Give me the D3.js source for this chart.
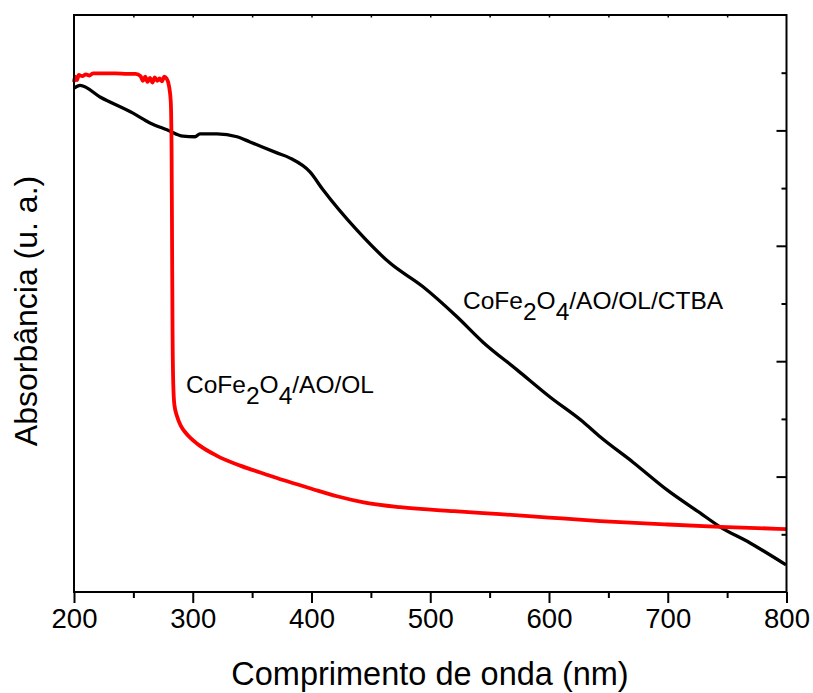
<!DOCTYPE html>
<html>
<head>
<meta charset="utf-8">
<script src="https://cdn.jsdelivr.net/npm/d3@7/dist/d3.min.js"></script>
<style>
  html, body { margin: 0; padding: 0; background: #fff; }
  svg { display: block; font-family: "Liberation Sans", Arial, Helvetica, sans-serif; }
</style>
</head>
<body>
<svg id="chart" width="813" height="693"></svg>
<script>
// UV-Vis absorbance spectra (wavelength in nm, absorbance in arbitrary units)
const xTicks = [200, 300, 400, 500, 600, 700, 800];
const xMinorTicks = [250, 350, 450, 550, 650, 750];
const yTicks = [0.1, 0.2, 0.3, 0.4, 0.5, 0.6, 0.7, 0.8, 0.9];

const wavelengthOL = [200, 201, 202.5, 204, 207, 210, 213, 216, 225, 235, 245, 252, 256, 258, 260, 262, 264, 266, 268, 270, 272, 274, 276, 278, 280, 281.5, 282.2, 282.6, 283.0, 283.6, 284.5, 286.7, 290, 294, 298, 305, 320.4, 340, 360, 376, 400, 421.5, 445, 474.5, 520, 558.7, 600, 643, 700, 744, 800];
const absorbanceOL = [0.884, 0.893, 0.887, 0.896, 0.894, 0.897, 0.895, 0.899, 0.899, 0.899, 0.898, 0.898, 0.894, 0.886, 0.893, 0.884, 0.891, 0.883, 0.892, 0.886, 0.890, 0.885, 0.893, 0.890, 0.877, 0.850, 0.760, 0.600, 0.450, 0.360, 0.325, 0.305, 0.288, 0.276, 0.267, 0.255, 0.236, 0.219, 0.205, 0.194, 0.179, 0.166, 0.155, 0.147, 0.140, 0.135, 0.129, 0.123, 0.117, 0.113, 0.109];

const wavelengthCTBA = [200, 205.1, 221.9, 249.7, 264.0, 278.3, 291.8, 301.9, 306.1, 320.4, 337.3, 348.2, 370.9, 381.9, 398.7, 409.7, 438.3, 466.1, 493.9, 522.5, 544.4, 573.1, 600.8, 628.6, 643, 670.7, 699.4, 727.2, 744, 769.3, 799.6];
const absorbanceCTBA = [0.873, 0.878, 0.858, 0.830, 0.813, 0.801, 0.790, 0.789, 0.794, 0.794, 0.789, 0.780, 0.761, 0.752, 0.728, 0.697, 0.627, 0.570, 0.529, 0.477, 0.433, 0.385, 0.338, 0.295, 0.269, 0.225, 0.177, 0.137, 0.113, 0.085, 0.047];

const seriesNames = ["CoFe2O4/AO/OL", "CoFe2O4/AO/OL/CTBA"];

const margin = { left: 74, right: 26.5, top: 15, bottom: 101 };
const W = 813, H = 693;
const svg = d3.select("#chart");

const x = d3.scaleLinear().domain([200, 800]).range([margin.left, W - margin.right]);
const y = d3.scaleLinear().domain([0, 1]).range([H - margin.bottom, margin.top]);

const x0 = x.range()[0], x1 = x.range()[1];
const y0 = y.range()[0], y1 = y.range()[1];

// spectra
const line = d3.line().x(d => x(d[0])).y(d => y(d[1])).curve(d3.curveMonotoneX);
const olData = d3.zip(wavelengthOL, absorbanceOL);
const ctbaData = d3.zip(wavelengthCTBA, absorbanceCTBA);

const plot = svg.append("g");
plot.append("path").datum(ctbaData)
  .attr("d", line).attr("fill", "none").attr("stroke", "#000")
  .attr("stroke-width", 3.3).attr("stroke-linejoin", "round");
plot.append("path").datum(olData)
  .attr("d", line).attr("fill", "none").attr("stroke", "#ff0000")
  .attr("stroke-width", 3.8).attr("stroke-linejoin", "round");

// bottom axis: ticks outward, labelled
const bottomAxis = svg.append("g").attr("transform", `translate(0,${y0})`)
  .call(d3.axisBottom(x).tickValues(xTicks).tickSize(11).tickPadding(5).tickFormat(d3.format("d")));
bottomAxis.select(".domain").remove();
bottomAxis.selectAll(".tick line").attr("stroke", "#000").attr("stroke-width", 2);
bottomAxis.selectAll(".tick text").attr("font-size", 27.5).attr("fill", "#000")
  .attr("font-family", "'Liberation Sans', Arial, sans-serif");
const bottomMinor = svg.append("g").attr("transform", `translate(0,${y0})`)
  .call(d3.axisBottom(x).tickValues(xMinorTicks).tickSize(6).tickFormat(""));
bottomMinor.select(".domain").remove();
bottomMinor.selectAll(".tick line").attr("stroke", "#000").attr("stroke-width", 2);

// top axis: tiny inward ticks
const topAxis = svg.append("g").attr("transform", `translate(0,${y1})`)
  .call(d3.axisBottom(x).tickValues(xTicks.concat(xMinorTicks).filter(v => v > 200 && v < 800)).tickSize(2.5).tickFormat(""));
topAxis.select(".domain").remove();
topAxis.selectAll(".tick line").attr("stroke", "#000").attr("stroke-width", 1.5);

// right axis: inward ticks, alternating length
const rightAxis = svg.append("g").attr("transform", `translate(${x1},0)`)
  .call(d3.axisLeft(y).tickValues(yTicks).tickSize(0).tickFormat(""));
rightAxis.select(".domain").remove();
rightAxis.selectAll(".tick line")
  .attr("x2", (d, i) => (i % 2 === 1 ? -10 : -5))
  .attr("stroke", "#000").attr("stroke-width", 2);

// frame
svg.append("rect")
  .attr("x", x0).attr("y", y1).attr("width", x1 - x0).attr("height", y0 - y1)
  .attr("fill", "none").attr("stroke", "#000").attr("stroke-width", 2);

// axis titles
svg.append("text")
  .attr("x", 430).attr("y", 685).attr("text-anchor", "middle")
  .attr("font-size", 32.5).attr("fill", "#000")
  .text("Comprimento de onda (nm)");
svg.append("text")
  .attr("transform", "translate(37,311) rotate(-90)").attr("text-anchor", "middle")
  .attr("font-size", 32).attr("fill", "#000")
  .text("Absorbância (u. a.)");

// series labels with subscripts
function chemLabel(px, py, name) {
  const t = svg.append("text").attr("x", px).attr("y", py)
    .attr("font-size", 24.5).attr("fill", "#000");
  const parts = name.match(/[A-Za-z\/]+|\d+/g);
  let shifted = false;
  parts.forEach(p => {
    const isSub = /^\d+$/.test(p);
    const span = t.append("tspan").text(p);
    if (isSub && !shifted) { span.attr("dy", 11); shifted = true; }
    else if (!isSub && shifted) { span.attr("dy", -11); shifted = false; }
  });
}
chemLabel(463, 309, seriesNames[1]);
chemLabel(186, 393, seriesNames[0]);
</script>
</body>
</html>
